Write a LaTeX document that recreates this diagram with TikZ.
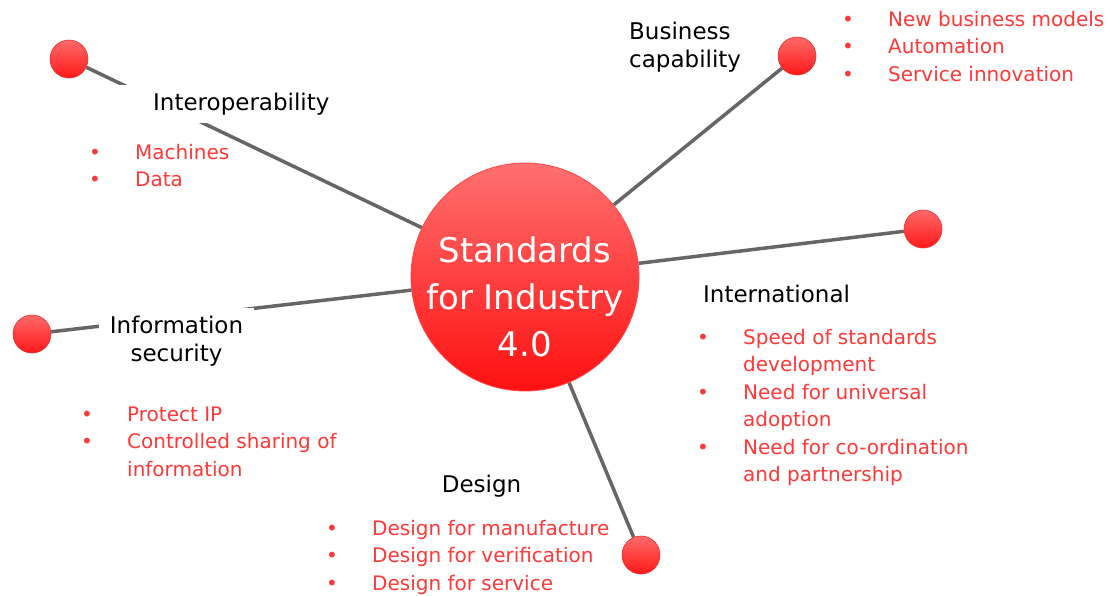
\documentclass[tikz,border=0pt]{standalone}
\usepackage{fontspec}
\setmainfont{DejaVu Sans}
\usepackage{tikz}
\usetikzlibrary{shapes,backgrounds}
\usepackage{xcolor}
\definecolor{hubtop}{RGB}{255,112,112}
\definecolor{hubbottom}{RGB}{255,16,16}
\definecolor{hubedge}{RGB}{255,70,70}
\definecolor{knobtop}{RGB}{255,106,106}
\definecolor{knobbottom}{RGB}{255,24,24}
\definecolor{knobedge}{RGB}{232,48,48}
\definecolor{spokegrey}{RGB}{102,102,102}
\definecolor{itemred}{RGB}{255,56,56}
\newcommand{\itemmark}{\makebox[46pt][l]{\textbullet}}
\newcommand{\itemgap}{\hspace*{46pt}}

\begin{document}
\begin{tikzpicture}[x=1pt, y=-1pt,
    hub/.style={circle, minimum size=228pt, inner sep=0pt, top color=hubtop, bottom color=hubbottom, draw=hubedge, line width=0.8pt},
    hubtext/.style={text=white, align=center, inner sep=0pt, font=\fontsize{34}{47}\selectfont},
    knob/.style={circle, minimum size=38pt, inner sep=0pt, top color=knobtop, bottom color=knobbottom, draw=knobedge, line width=0.6pt},
    spoke/.style={draw=spokegrey, line width=3.5pt},
    topic/.style={fill=white, text=black, inner xsep=10pt, inner ysep=8pt, align=left, font=\fontsize{23}{28.5}\selectfont},
    points/.style={text=itemred, inner sep=0pt, align=left, anchor=base west, font=\fontsize{20}{27.5}\selectfont}]
    \useasboundingbox (0,0) rectangle (1110,595);
    \node [hub] (hub) at (525,277) {};
    \node [hubtext] (hubcaption) at ([yshift=-20pt]hub.center) {Standards\\for Industry\\4.0};

    \node [knob] (interop) at (69,59) {};
    \node [knob] (business) at (797,56) {};
    \node [knob] (intl) at (923,229) {};
    \node [knob] (infosec) at (32,334) {};
    \node [knob] (design) at (641,555) {};

    \begin{scope}[on background layer]
    \fill[white] (0,0) rectangle (1110,595);
    \draw[spoke] (interop) -- (hub);
    \draw[spoke] (business) -- (hub);
    \draw[spoke] (intl) -- (hub);
    \draw[spoke] (infosec) -- (hub);
    \draw[spoke] (design) -- (hub);
    \end{scope}

    % topic labels (base = last line)
    \node [topic, inner xsep=46pt, anchor=base west] (interoplabel) at (107,110) {Interoperability};
    \node [topic, anchor=base west] (businesslabel) at (619,67.5) {Business\\capability};
    \node [topic, anchor=base west] (intllabel) at (693,302) {International};
    \node [topic, align=center, inner xsep=11pt, anchor=base] (infoseclabel) at (176.5,361.5) {Information\\security};
    \node [topic, anchor=base] (designlabel) at (481.5,492) {Design};

    % bullet points
    \node [points] (interoppoints) at (89,186.5) {\itemmark Machines\\\itemmark Data};
    \node [points] (businesspoints) at (842,81) {\itemmark New business models\\\itemmark Automation\\\itemmark Service innovation};
    \node [points] (intlpoints) at (697,481.5) {\itemmark Speed of standards\\\itemgap development\\\itemmark Need for universal\\\itemgap adoption\\\itemmark Need for co-ordination\\\itemgap and partnership};
    \node [points] (infosecpoints) at (81,476) {\itemmark Protect IP\\\itemmark Controlled sharing of\\\itemgap information};
    \node [points] (designpoints) at (326,590) {\itemmark Design for manufacture\\\itemmark Design for verification\\\itemmark Design for service};
\end{tikzpicture}
\end{document}
